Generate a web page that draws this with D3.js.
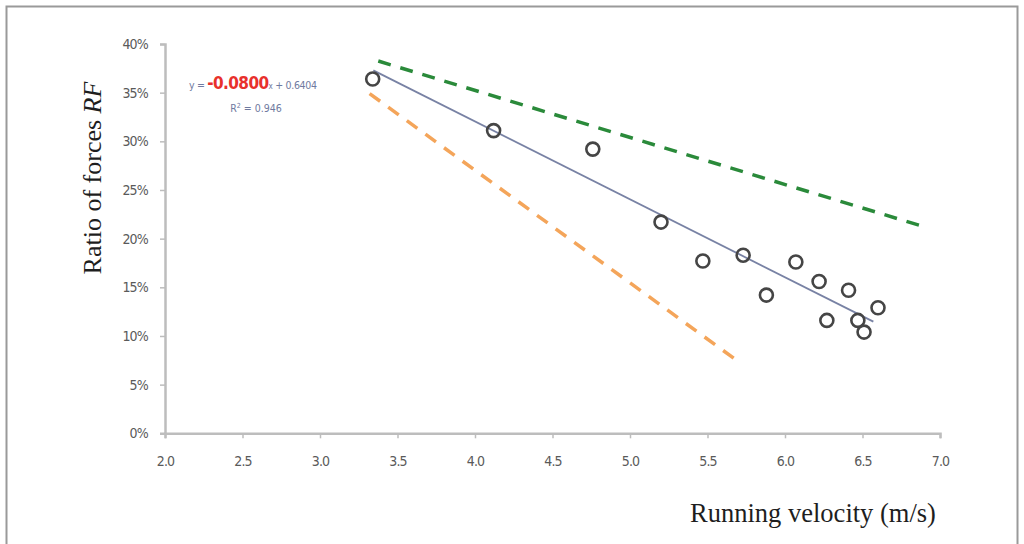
<!DOCTYPE html>
<html>
<head>
<meta charset="utf-8">
<script src="https://cdn.jsdelivr.net/npm/d3@7"></script>
<style>
  html, body { margin: 0; padding: 0; background: #fff; }
  svg { display: block; }
</style>
</head>
<body>
<div id="chart"></div>
<script>
// measured points: running velocity (m/s) and ratio of forces RF
const velocity = [3.34, 4.12, 4.76, 5.20, 5.47, 5.73, 5.88, 6.07, 6.22, 6.27, 6.41, 6.47, 6.51, 6.60];
const ratioRF  = [0.364, 0.311, 0.292, 0.217, 0.177, 0.183, 0.142, 0.176, 0.156, 0.116, 0.147, 0.116, 0.104, 0.129];

// linear fit y = slope * x + intercept, drawn over this x range
const fitSlope = -0.0800;
const fitIntercept = 0.6404;
const fitR2 = 0.946;
const fitRange = [3.344, 6.57];

// the two dashed reference lines, [x, y] end points
const greenLine = [[3.376, 0.3825], [6.903, 0.212]];
const orangeLine = [[3.32, 0.349], [5.688, 0.075]];

const xTicks = [2.0, 2.5, 3.0, 3.5, 4.0, 4.5, 5.0, 5.5, 6.0, 6.5, 7.0];
const yTicks = [0, 0.05, 0.10, 0.15, 0.20, 0.25, 0.30, 0.35, 0.40];

const width = 1024;
const height = 544;
const plot = { left: 165, right: 940, top: 44, bottom: 433.3 };

const tickFont = '"DejaVu Sans Condensed", "Open Sans", sans-serif';
const serif = '"Liberation Serif", "DejaVu Serif", serif';

const svg = d3.select('#chart')
    .append('svg')
    .attr('width', width)
    .attr('height', height);

// outer frame
svg.append('rect')
    .attr('x', 6.5)
    .attr('y', 6.5)
    .attr('width', 1011)
    .attr('height', 560)
    .attr('fill', '#fff')
    .attr('stroke', '#9a9a9a')
    .attr('stroke-width', 2);

const x = d3.scaleLinear().domain([2, 7]).range([plot.left, plot.right]);
const y = d3.scaleLinear().domain([0, 0.4]).range([plot.bottom, plot.top]);

// axes
const xAxis = svg.append('g')
    .attr('transform', `translate(0,${plot.bottom})`)
    .call(d3.axisBottom(x).tickValues(xTicks).tickFormat(d3.format('.1f')).tickSize(5).tickPadding(18));

const yAxis = svg.append('g')
    .attr('transform', `translate(${plot.left},0)`)
    .call(d3.axisLeft(y).tickValues(yTicks).tickFormat(d3.format('.0%')).tickSize(5).tickPadding(12));

[xAxis, yAxis].forEach(ax => {
    ax.select('.domain').attr('stroke', '#bdbdbd').attr('stroke-width', 2.5);
    ax.selectAll('.tick line').attr('stroke', '#bdbdbd').attr('stroke-width', 1.5);
    ax.selectAll('.tick text')
        .attr('fill', '#5a5a5a')
        .style('font-family', tickFont)
        .style('font-size', '14px')
        .style('letter-spacing', '-0.8px');
});

// dashed reference lines
const line = d3.line().x(d => x(d[0])).y(d => y(d[1]));

svg.append('path')
    .datum(greenLine)
    .attr('d', line)
    .attr('fill', 'none')
    .attr('stroke', '#2a8a3a')
    .attr('stroke-width', 3.5)
    .attr('stroke-dasharray', '13 10');

svg.append('path')
    .datum(orangeLine)
    .attr('d', line)
    .attr('fill', 'none')
    .attr('stroke', '#f4a55a')
    .attr('stroke-width', 3.5)
    .attr('stroke-dasharray', '13 10');

// regression line
svg.append('path')
    .datum(fitRange.map(v => [v, fitSlope * v + fitIntercept]))
    .attr('d', line)
    .attr('fill', 'none')
    .attr('stroke', '#7882a4')
    .attr('stroke-width', 1.8);

// data points
svg.append('g')
    .selectAll('circle')
    .data(velocity.map((v, i) => [v, ratioRF[i]]))
    .join('circle')
    .attr('cx', d => x(d[0]))
    .attr('cy', d => y(d[1]))
    .attr('r', 6.5)
    .attr('fill', 'none')
    .attr('stroke', '#454545')
    .attr('stroke-width', 2.6);

// equation label
const eq = svg.append('text')
    .attr('x', 189)
    .attr('y', 89)
    .style('font-family', tickFont)
    .style('font-size', '10.5px')
    .style('letter-spacing', '-0.3px')
    .attr('fill', '#6f7aa0');
eq.append('tspan').text('y = ');
eq.append('tspan')
    .attr('fill', '#e8302c')
    .style('font-size', '17px')
    .style('font-weight', 'bold')
    .style('letter-spacing', '-0.6px')
    .text('-' + Math.abs(fitSlope).toFixed(4));
eq.append('tspan').style('font-size', '8px').text('x');
eq.append('tspan').text(' + ' + fitIntercept.toFixed(4));

svg.append('text')
    .attr('x', 256)
    .attr('y', 112)
    .attr('text-anchor', 'middle')
    .style('font-family', tickFont)
    .style('font-size', '10.5px')
    .attr('fill', '#6f7aa0')
    .html(`R<tspan dy="-4" font-size="7px">2</tspan><tspan dy="4"> = ${fitR2}</tspan>`);

// axis titles
const yTitle = svg.append('text')
    .attr('transform', 'translate(101,178) rotate(-90)')
    .attr('text-anchor', 'middle')
    .style('font-family', serif)
    .style('font-size', '26px')
    .attr('fill', '#1e1e1e');
yTitle.append('tspan').text('Ratio of forces ');
yTitle.append('tspan').style('font-style', 'italic').text('RF');

svg.append('text')
    .attr('x', 813)
    .attr('y', 522)
    .attr('text-anchor', 'middle')
    .style('font-family', serif)
    .style('font-size', '26.5px')
    .attr('fill', '#1e1e1e')
    .text('Running velocity (m/s)');
</script>
</body>
</html>
